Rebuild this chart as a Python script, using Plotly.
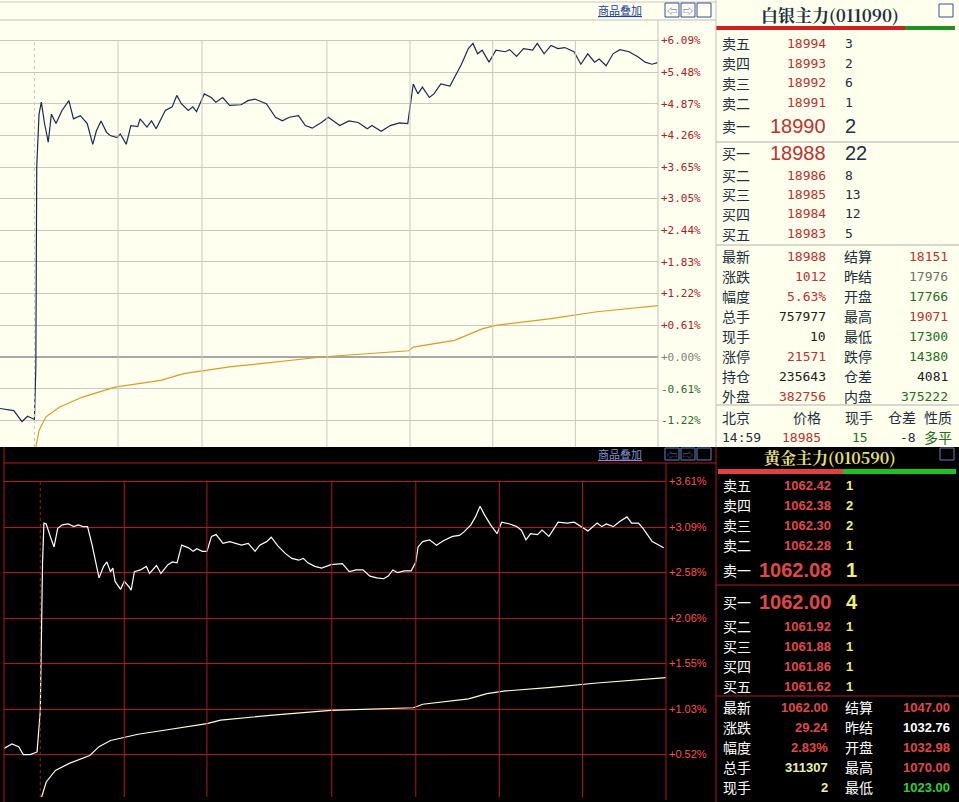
import plotly.graph_objects as go

W, H = 959, 802
def X(px): return px / W
def Y(py): return 1 - py / H

# ---------------- silver (top) ----------------
silver_t = [0,30,48,60,75,78,80,85,90,97,105,112,122,135,150,160,175,190,202,210,220,232,240,255,262,275,285,300,305,320,330,340,360,375,385,395,410,420,428,445,460,470,485,500,525,540,555,580,600,615,630,650,665,680,700,715,740,760,780,800,810,830,850,870,888,895,900,910,920,935,945,960,980,990,1005,1020,1030,1040,1050,1065,1080,1100,1110,1125,1140,1160,1170,1185,1200,1215,1230,1250,1265,1280,1295,1305,1320,1335,1350,1370,1390,1405,1420,1432]
silver_pct = [-0.99,-1.03,-1.24,-1.14,-1.20,-0.20,3.65,4.67,4.90,4.49,4.13,4.67,4.49,4.74,4.93,4.58,4.64,4.49,4.09,4.35,4.54,4.32,4.26,4.22,4.29,4.09,4.45,4.43,4.58,4.42,4.54,4.39,4.74,4.81,5.03,4.87,4.74,4.81,4.72,5.06,4.99,4.90,4.99,4.84,4.85,4.93,4.96,4.87,4.61,4.54,4.61,4.64,4.45,4.40,4.51,4.61,4.45,4.54,4.51,4.39,4.45,4.34,4.45,4.50,4.49,4.93,5.25,5.06,5.19,4.99,5.06,5.25,5.21,5.38,5.63,5.93,6.03,5.83,5.90,5.67,5.90,5.87,5.91,5.78,5.93,5.90,6.03,5.83,5.99,5.93,5.95,5.87,5.63,5.83,5.67,5.73,5.60,5.83,5.91,5.87,5.77,5.67,5.63,5.66]
silver_avg_t = [78,85,100,130,180,250,350,400,500,600,700,890,900,990,1050,1080,1200,1300,1435]
silver_avg = [-1.73,-1.41,-1.15,-0.96,-0.77,-0.58,-0.45,-0.32,-0.19,-0.10,0.00,0.12,0.19,0.32,0.54,0.61,0.74,0.87,0.99]
silver_ticks = [6.09,5.48,4.87,4.26,3.65,3.05,2.44,1.83,1.22,0.61,0.00,-0.61,-1.22]
silver_vgrid = [257,440,712,893,1073,1253]

# ---------------- gold (bottom) ----------------
gold_t = [8,25,40,50,65,80,87,92,95,100,110,117,125,135,148,160,170,180,190,200,215,225,232,240,245,250,262,270,280,285,292,305,318,325,340,350,365,375,385,395,410,420,428,440,450,460,470,485,500,515,525,540,555,565,580,590,605,620,635,650,660,670,685,700,720,745,760,775,790,805,820,835,845,855,865,880,895,905,910,920,935,950,965,985,1000,1010,1025,1035,1045,1055,1068,1082,1092,1110,1125,1135,1145,1155,1170,1180,1195,1215,1235,1250,1265,1280,1300,1310,1320,1335,1350,1365,1375,1390,1400,1420,1435,1445]
gold_pct = [0.59,0.64,0.61,0.52,0.52,0.55,1.01,2.70,3.14,3.13,2.97,2.87,3.08,3.12,3.13,3.10,3.12,3.10,3.10,2.89,2.52,2.65,2.70,2.59,2.63,2.48,2.39,2.48,2.42,2.38,2.59,2.61,2.65,2.57,2.66,2.57,2.67,2.70,2.69,2.89,2.86,2.82,2.85,2.82,2.82,2.99,3.01,2.91,2.93,2.91,2.89,2.91,2.82,2.89,2.93,2.98,2.88,2.80,2.74,2.72,2.74,2.69,2.65,2.63,2.67,2.68,2.59,2.61,2.61,2.54,2.52,2.51,2.54,2.61,2.58,2.60,2.60,2.70,2.87,2.93,2.95,2.89,2.94,2.99,3.00,3.04,3.12,3.21,3.33,3.23,3.12,3.02,3.15,3.13,3.10,3.06,2.95,3.02,3.01,3.06,2.99,3.15,3.14,3.15,3.10,3.05,3.14,3.10,3.13,3.10,3.16,3.21,3.14,3.14,3.08,2.93,2.89,2.86]
gold_avg_t = [90,100,120,150,195,215,240,300,350,450,480,600,720,800,900,920,1020,1060,1100,1200,1300,1450]
gold_avg = [0.04,0.21,0.34,0.42,0.51,0.61,0.68,0.75,0.79,0.87,0.91,0.97,1.02,1.03,1.05,1.09,1.15,1.21,1.24,1.28,1.33,1.39]
gold_ticks = [3.61,3.09,2.58,2.06,1.55,1.03,0.52]
gold_vgrid = [270,450,722,905,1087,1268]

# ---------------- quote panels ----------------
silver_title = "白银主力(011090)"
ask_labels = ["卖五","卖四","卖三","卖二","卖一"]
bid_labels = ["买一","买二","买三","买四","买五"]
silver_ask_p = ["18994","18993","18992","18991","18990"]
silver_ask_v = ["3","2","6","1","2"]
silver_bid_p = ["18988","18986","18985","18984","18983"]
silver_bid_v = ["22","8","13","12","5"]
stat_l1 = ["最新","涨跌","幅度","总手","现手","涨停","持仓","外盘"]
stat_l2 = ["结算","昨结","开盘","最高","最低","跌停","仓差","内盘"]
silver_s1 = ["18988","1012","5.63%","757977","10","21571","235643","382756"]
silver_s1c = ["#C03030","#C03030","#C03030","#202020","#202020","#C03030","#202020","#C03030"]
silver_s2 = ["18151","17976","17766","19071","17300","14380","4081","375222"]
silver_s2c = ["#C03030","#707070","#207020","#C03030","#207020","#207020","#202020","#207020"]
tick_head = ["北京","价格","现手","仓差","性质"]
tick_row = ["14:59","18985","15","-8","多平"]

gold_title = "黄金主力(010590)"
gold_ask_p = ["1062.42","1062.38","1062.30","1062.28","1062.08"]
gold_ask_v = ["1","2","2","1","1"]
gold_bid_p = ["1062.00","1061.92","1061.88","1061.86","1061.62"]
gold_bid_v = ["4","1","1","1","1"]
gold_l1 = ["最新","涨跌","幅度","总手","现手"]
gold_l2 = ["结算","昨结","开盘","最高","最低"]
gold_s1 = ["1062.00","29.24","2.83%","311307","2"]
gold_s1c = ["#E04848","#E04848","#E04848","#F0F0A0","#F0F0A0"]
gold_s2 = ["1047.00","1032.76","1032.98","1070.00","1023.00"]
gold_s2c = ["#E04848","#FFFFFF","#E04848","#E04848","#30D030"]

fig = go.Figure()
fig.add_trace(go.Scatter(x=silver_t, y=silver_pct, mode="lines", line=dict(color="#1A2A50", width=1.2), xaxis="x", yaxis="y", hoverinfo="skip"))
fig.add_trace(go.Scatter(x=silver_avg_t, y=silver_avg, mode="lines", line=dict(color="#E09A20", width=1.2), xaxis="x", yaxis="y", hoverinfo="skip"))
fig.add_trace(go.Scatter(x=gold_t, y=gold_pct, mode="lines", line=dict(color="#FFFFFF", width=1.2), xaxis="x2", yaxis="y2", hoverinfo="skip"))
fig.add_trace(go.Scatter(x=gold_avg_t, y=gold_avg, mode="lines", line=dict(color="#FFFFC8", width=1.2), xaxis="x2", yaxis="y2", hoverinfo="skip"))

def tcol(v, red, zero, green):
    return red if v > 0 else (zero if v == 0 else green)

sil_text = ["<span style='color:%s'>%s%.2f%%</span>" % (tcol(v, "#B02020", "#808080", "#207020"), "+" if v >= 0 else "", v) for v in silver_ticks]
gold_text = ["<span style='color:#FF5050'>+%.2f%%</span>" % v for v in gold_ticks]

fig.update_layout(
    width=W, height=H, margin=dict(l=0, r=0, t=0, b=0),
    paper_bgcolor="#000000", plot_bgcolor="rgba(0,0,0,0)", showlegend=False,
    xaxis=dict(domain=[0, X(658)], range=[0, 1433], showgrid=False, zeroline=False, showticklabels=False, fixedrange=True),
    yaxis=dict(domain=[Y(447), Y(20)], range=[-1.73, 6.48], side="right", tickvals=silver_ticks, ticktext=sil_text,
               showgrid=True, gridcolor="#C8C8C0", gridwidth=1, zeroline=True, zerolinecolor="#A8A8A8", zerolinewidth=2,
               tickfont=dict(family="DejaVu Sans Mono", size=11), ticks="", ticklabelstandoff=2),
    xaxis2=dict(domain=[X(4), X(666)], range=[8, 1450], anchor="y2", showgrid=False, zeroline=False, showticklabels=False),
    yaxis2=dict(domain=[Y(797), Y(463)], range=[0.04, 3.82], anchor="x2", side="right", tickvals=gold_ticks, ticktext=gold_text,
                showgrid=True, gridcolor="#B01818", gridwidth=1, zeroline=False,
                tickfont=dict(family="Liberation Sans", size=11), ticks="", ticklabelstandoff=2),
)

shapes = []
def rect(x0, y0, x1, y1, fill, line=None, layer="below"):
    shapes.append(dict(type="rect", xref="paper", yref="paper", x0=X(x0), x1=X(x1), y0=Y(y1), y1=Y(y0),
                       fillcolor=fill, line=dict(width=0 if line is None else 1, color=line or fill), layer=layer))
def hline(x0, x1, y, color, w=1):
    shapes.append(dict(type="line", xref="paper", yref="paper", x0=X(x0), x1=X(x1), y0=Y(y), y1=Y(y), line=dict(color=color, width=w)))
def vline(x, y0, y1, color, w=1):
    shapes.append(dict(type="line", xref="paper", yref="paper", x0=X(x), x1=X(x), y0=Y(y0), y1=Y(y1), line=dict(color=color, width=w)))

rect(0, 0, 716, 447, "#FFFFF0")
rect(716, 0, 959, 447, "#FFFFEE")
rect(0, 447, 959, 802, "#000000")
hline(0, 716, 2, "#C8C8C0")
hline(0, 716, 20, "#C0C0C0")
vline(658, 20, 447, "#C0C0C0")
vline(716, 0, 447, "#C0C0C0")
hline(4, 716, 463, "#B01818")
vline(666, 463, 800, "#B01818")
vline(716, 447, 802, "#B01818")
vline(4, 447, 802, "#B01818")
shapes.append(dict(type="line", xref="x", yref="y", x0=75, x1=75, y0=-1.73, y1=6.09, line=dict(color="#C8C8C0", width=1, dash="dot")))
for v in silver_vgrid:
    shapes.append(dict(type="line", xref="x", yref="y", x0=v, x1=v, y0=-1.73, y1=6.09, line=dict(color="#C8C8C0", width=1)))
shapes.append(dict(type="line", xref="x2", yref="y2", x0=87, x1=87, y0=0.04, y1=3.61, line=dict(color="#B01818", width=1, dash="dot")))
for v in gold_vgrid:
    shapes.append(dict(type="line", xref="x2", yref="y2", x0=v, x1=v, y0=0.04, y1=3.61, line=dict(color="#B01818", width=1)))
rect(716, 26, 905, 30, "#D02020"); rect(905, 26, 955, 30, "#209020")
rect(718, 469, 843, 474, "#E04040"); rect(843, 469, 956, 474, "#20C020")
for yy in (142, 245, 405):
    hline(716, 959, yy, "#B0B0B0")
for yy in (585, 696):
    hline(716, 959, yy, "#B01818")
for bx in (665, 681, 697):
    rect(bx, 3, bx + 14, 17, "rgba(0,0,0,0)", "#3050A0", layer="above")
    rect(bx, 448, bx + 14, 460, "rgba(0,0,0,0)", "#6080C0", layer="above")
rect(939, 4, 953, 17, "rgba(0,0,0,0)", "#3050A0", layer="above")
rect(940, 448, 954, 460, "rgba(0,0,0,0)", "#6080C0", layer="above")

ann = []
CJK = "Noto Sans CJK SC"
def txt(x, y, s, color, size=13, anchor="left", family=CJK, bold=False):
    if bold: s = "<b>%s</b>" % s
    ann.append(dict(xref="paper", yref="paper", x=X(x), y=Y(y), text=s, showarrow=False, xanchor=anchor, yanchor="middle",
                    font=dict(family=family, size=size, color=color)))

txt(620, 10, "<u>商品叠加</u>", "#2040A0", 11, "center")
txt(620, 454, "<u>商品叠加</u>", "#8090D0", 11, "center")
for bx, s in ((672, "⇦"), (688, "⇨")):
    txt(bx, 10, s, "#3050A0", 10, "center"); txt(bx, 454, s, "#6080C0", 10, "center")

txt(830, 14, silver_title, "#203040", 17, "center", "Noto Serif CJK SC, Noto Sans CJK SC", True)
ask_y = [43, 63, 83, 103, 126]
bid_y = [153, 175, 194, 214, 234]
for i in range(5):
    big = i == 4
    txt(720, ask_y[i], ask_labels[i], "#203040", 14)
    txt(828, ask_y[i], silver_ask_p[i], "#C03030", 20 if big else 13, "right", "DejaVu Sans Mono" if not big else "Liberation Sans")
    txt(843, ask_y[i], silver_ask_v[i], "#203040", 20 if big else 13, "left", "DejaVu Sans Mono" if not big else "Liberation Sans")
    big = i == 0
    txt(720, bid_y[i], bid_labels[i], "#203040", 14)
    txt(828, bid_y[i], silver_bid_p[i], "#C03030", 20 if big else 13, "right", "DejaVu Sans Mono" if not big else "Liberation Sans")
    txt(843, bid_y[i], silver_bid_v[i], "#203040", 20 if big else 13, "left", "DejaVu Sans Mono" if not big else "Liberation Sans")
for i in range(8):
    yy = 256 + 20 * i
    txt(720, yy, stat_l1[i], "#203040", 14)
    txt(828, yy, silver_s1[i], silver_s1c[i], 13, "right", "DejaVu Sans Mono")
    txt(842, yy, stat_l2[i], "#203040", 14)
    txt(950, yy, silver_s2[i], silver_s2c[i], 13, "right", "DejaVu Sans Mono")
hx = [(720, "left"), (823, "right"), (843, "left"), (918, "right"), (954, "right")]
hcol = ["#203040", "#C03030", "#207020", "#203040", "#207020"]
for j in range(5):
    txt(hx[j][0], 417, tick_head[j], "#203040", 14, hx[j][1])
    txt(hx[j][0] if j != 2 else 870, 437, tick_row[j], hcol[j], 13 if j < 4 else 14, hx[j][1] if j != 2 else "right", "DejaVu Sans Mono" if j < 4 else CJK)

txt(830, 458, gold_title, "#E8E070", 16, "center", "Noto Serif CJK SC, Noto Sans CJK SC", True)
g_ask_y = [485, 505, 525, 545, 570]
g_bid_y = [602, 626, 646, 666, 686]
for i in range(5):
    big = i == 4
    txt(721, g_ask_y[i], ask_labels[i], "#FFFFFF", 14)
    txt(833, g_ask_y[i], gold_ask_p[i], "#E04848", 20 if big else 13, "right", "Liberation Sans", True)
    txt(844, g_ask_y[i], gold_ask_v[i], "#F0F070", 20 if big else 13, "left", "Liberation Sans", True)
    big = i == 0
    txt(721, g_bid_y[i], bid_labels[i], "#FFFFFF", 14)
    txt(833, g_bid_y[i], gold_bid_p[i], "#E04848", 20 if big else 13, "right", "Liberation Sans", True)
    txt(844, g_bid_y[i], gold_bid_v[i], "#F0F070", 20 if big else 13, "left", "Liberation Sans", True)
for i in range(5):
    yy = 707 + 20 * i
    txt(721, yy, gold_l1[i], "#FFFFFF", 14)
    txt(830, yy, gold_s1[i], gold_s1c[i], 13, "right", "Liberation Sans", True)
    txt(843, yy, gold_l2[i], "#FFFFFF", 14)
    txt(952, yy, gold_s2[i], gold_s2c[i], 13, "right", "Liberation Sans", True)

fig.update_layout(shapes=shapes, annotations=ann)
fig.write_html("out.html", config=dict(displayModeBar=False),
               post_script="document.body.style.margin='0';document.body.style.overflow='hidden';")
